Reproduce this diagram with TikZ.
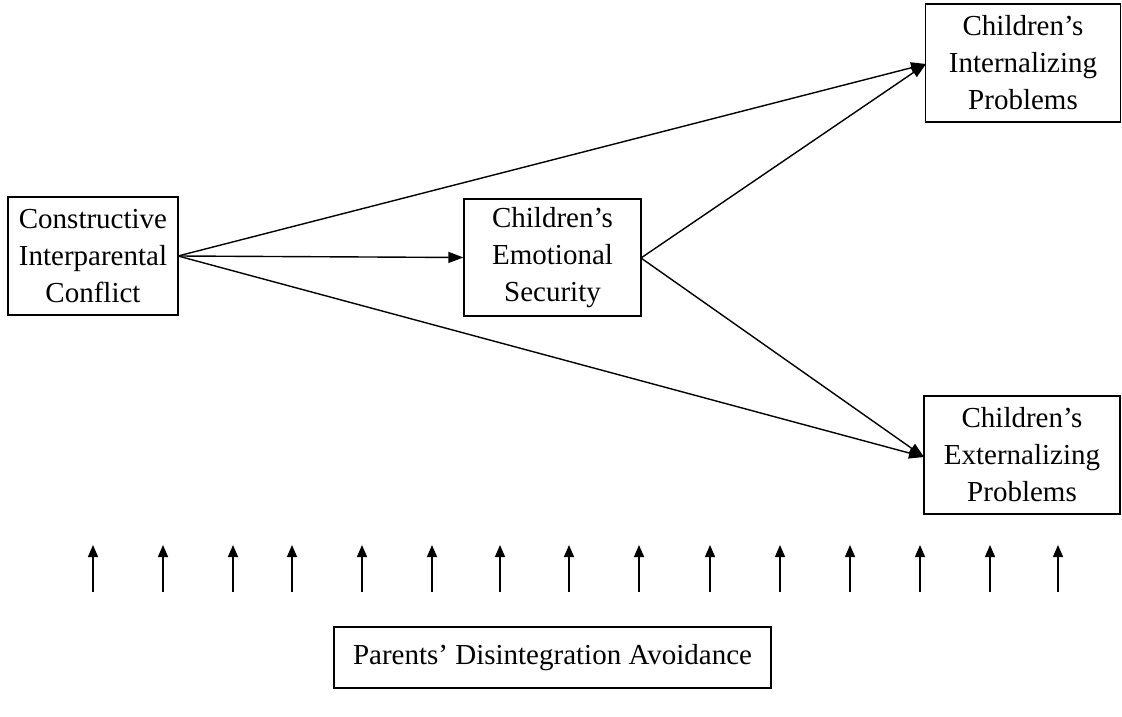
\documentclass[tikz,border=0pt]{standalone}
\usepackage{fontspec}
\setmainfont{Liberation Serif}
\usetikzlibrary{arrows.meta}
\begin{document}
\begin{tikzpicture}[x=1pt,y=-1pt,
  box/.style={draw,line width=1.3pt,inner sep=0pt,align=center,font=\fontsize{29}{37}\selectfont},
  arr/.style={line width=1.4pt,-{Triangle[length=15pt,width=11pt]}},
  tick/.style={line width=1.4pt,-{Triangle[length=12pt,width=10pt]}}]
\useasboundingbox (0,0) rectangle (1122,717);
\node[box,minimum width=170pt,minimum height=118pt] (cic) at (93,256) {Constructive\\Interparental\\Conflict};
\node[box,minimum width=177pt,minimum height=117pt] (ces) at (552.5,257.5) {Children’s\\Emotional\\Security};
\node[box,minimum width=195pt,minimum height=118pt] (cip) at (1023,63) {Children’s\\Internalizing\\Problems};
\node[box,minimum width=196pt,minimum height=118pt] (cep) at (1022,455) {Children’s\\Externalizing\\Problems};
\node[box,minimum width=437pt,minimum height=61pt] (pda) at (552.5,657.5) {Parents’ Disintegration Avoidance};
\coordinate (o) at (178,256);
\coordinate (m) at (641,258);
\draw[arr] (o) -- (ces.west);
\draw[arr] (o) -- (926,64);
\draw[arr] (o) -- (924,457);
\draw[arr] (m) -- (926,64);
\draw[arr] (m) -- (924,457);
\foreach \x [count=\i] in {93,163,233,292,362,432,500,569,639,710,780,850,920,990,1058}{
  \coordinate (b\i) at (\x,592);
  \coordinate (t\i) at (\x,545);
  \draw[tick] (b\i) -- (t\i);
}
\end{tikzpicture}
\end{document}
